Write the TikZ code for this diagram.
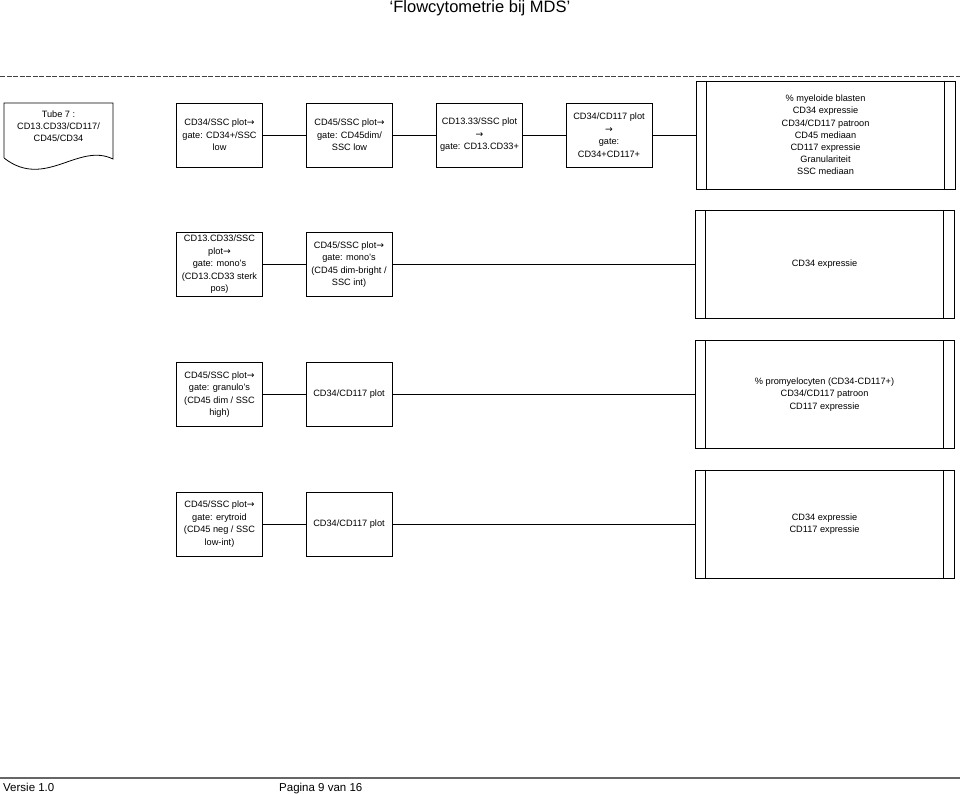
\documentclass[tikz,border=0pt]{standalone}
\usepackage{fontspec}
\setmainfont{Liberation Sans}
\newfontfamily\arrowfont{DejaVu Sans}
\usepackage{tikz}
\newcommand{\pijl}{{\arrowfont\char"2192}}
\tikzset{
 gatebox/.style={draw, line width=0.8pt, minimum width=86pt, minimum height=64pt,
  inner sep=1pt, align=center, font=\fontsize{9.2}{12.5}\selectfont},
 resbox/.style={draw, line width=0.8pt, minimum width=259pt, minimum height=108pt,
  inner sep=1pt, align=center, font=\fontsize{9.2}{12.2}\selectfont},
 link/.style={line width=0.8pt}
}
\begin{document}
\begin{tikzpicture}[x=1pt,y=-1pt]
 \useasboundingbox (0,0) rectangle (960,794);
 % kop en voet
 \node[anchor=base, font=\fontsize{16.5}{18}\selectfont] (titel) at (480,13) {‘Flowcytometrie bij MDS’};
 \draw[line width=1.2pt, black!75, dash pattern=on 5pt off 1.5pt] (0,76.5) -- (960,76.5);
 \draw[line width=1.6pt, black!60] (0,778) -- (960,778);
 \node[anchor=base west, inner sep=0pt, font=\fontsize{11.5}{13}\selectfont] (versie) at (3,791) {Versie 1.0};
 \node[anchor=base west, inner sep=0pt, font=\fontsize{11.5}{13}\selectfont] (pagina) at (279,791) {Pagina 9 van 16};

 % tube (document)
 \draw[line width=0.8pt] (4,158) -- (4,103) -- (113,103) -- (113,159)
  .. controls (78,142) and (45,190) .. (4,158);
 \node[align=center, font=\fontsize{9.2}{12}\selectfont] (tube) at (58.5,126) {Tube 7 :\\CD13.CD33/CD117/\\CD45/CD34};

 % rij 1
 \node[gatebox] (g1) at (219.5,135) {CD34/SSC plot\pijl\\gate: CD34+/SSC\\low};
 \node[gatebox] (g2) at (349.5,135) {CD45/SSC plot\pijl\\gate: CD45dim/\\SSC low};
 \node[gatebox] (g3) at (479.5,135) {CD13.33/SSC plot\\\pijl\\gate: CD13.CD33+};
 \node[gatebox] (g4) at (609,135) {CD34/CD117 plot\\\pijl\\gate:\\CD34+CD117+};
 \node[resbox] (r1) at (825.5,135) {\% myeloide blasten\\CD34 expressie\\CD34/CD117 patroon\\CD45 mediaan\\CD117 expressie\\Granulariteit\\SSC mediaan};
 \draw[link] (g1) -- (g2);
 \draw[link] (g2) -- (g3);
 \draw[link] (g3) -- (g4);
 \draw[link] (g4) -- (r1);

 % rij 2
 \node[gatebox] (m1) at (219.5,264.5) {CD13.CD33/SSC\\plot\pijl\\gate: mono's\\(CD13.CD33 sterk\\pos)};
 \node[gatebox] (m2) at (349,264.5) {CD45/SSC plot\pijl\\gate: mono's\\(CD45 dim-bright /\\SSC int)};
 \node[resbox] (r2) at (824.5,264.5) {CD34 expressie};
 \draw[link] (m1) -- (m2);
 \draw[link] (m2) -- (r2);

 % rij 3
 \node[gatebox] (k1) at (219.5,394.5) {CD45/SSC plot\pijl\\gate: granulo's\\(CD45 dim / SSC\\high)};
 \node[gatebox] (k2) at (349,394.5) {CD34/CD117 plot};
 \node[resbox] (r3) at (824.5,394.5) {\% promyelocyten (CD34-CD117+)\\CD34/CD117 patroon\\CD117 expressie};
 \draw[link] (k1) -- (k2);
 \draw[link] (k2) -- (r3);

 % rij 4
 \node[gatebox] (e1) at (219.5,524) {CD45/SSC plot\pijl\\gate: erytroid\\(CD45 neg / SSC\\low-int)};
 \node[gatebox] (e2) at (349,524) {CD34/CD117 plot};
 \node[resbox] (r4) at (824.5,524) {CD34 expressie\\CD117 expressie};
 \draw[link] (e1) -- (e2);
 \draw[link] (e2) -- (r4);

 % zijbalken van de resultaatvakken
 \foreach \r in {r1,r2,r3,r4} {
  \draw[link] ([xshift=11pt]\r.north west) -- ([xshift=11pt]\r.south west);
  \draw[link] ([xshift=-11pt]\r.north east) -- ([xshift=-11pt]\r.south east);
 }
\end{tikzpicture}
\end{document}
